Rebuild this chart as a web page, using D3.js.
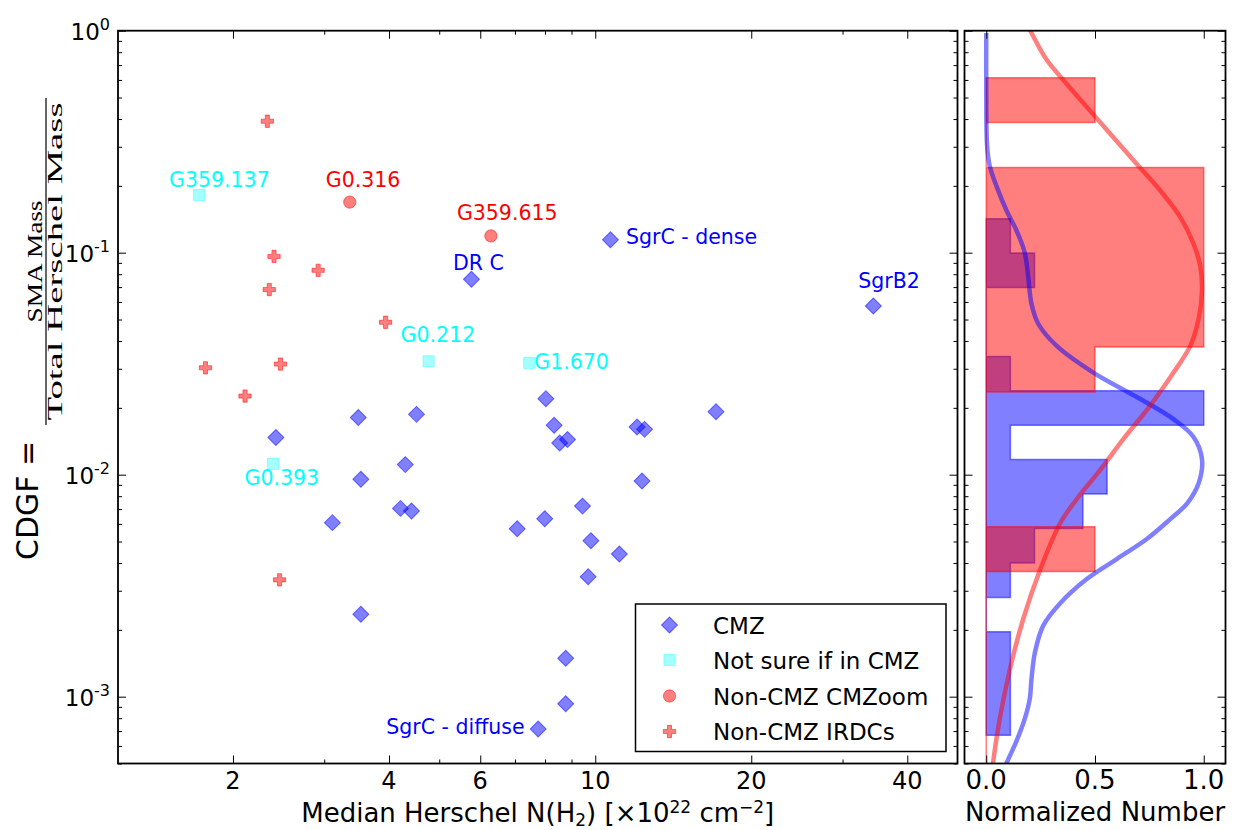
<!DOCTYPE html>
<html>
<head>
<meta charset="utf-8">
<script src="https://cdn.jsdelivr.net/npm/d3@7"></script>
<style>
  body { margin: 0; background: #fff; }
  text { font-family: "DejaVu Sans", sans-serif; }
  text.serif { font-family: "Liberation Serif", "DejaVu Serif", serif; }
</style>
</head>
<body>
<svg id="chart" width="1233" height="830"></svg>
<script>
'use strict';

// ---- data ----
// CMZ clouds: median Herschel N(H2) [1e22 cm^-2] and CDGF
const cmzNH2  = [10.70, 5.77, 34.4, 8.03, 8.33, 8.54, 8.84, 12.04, 12.45, 12.31, 17.1, 2.42, 3.49, 4.52, 3.53,
                 4.30, 4.21, 4.42, 3.11, 7.07, 7.99, 9.45, 9.81, 11.13, 9.69, 3.53, 8.77, 8.77, 7.76];
const cmzCDGF = [0.1144, 0.0759, 0.0575, 0.0220, 0.0167, 0.0139, 0.0144, 0.0164, 0.0160, 0.00936, 0.0192, 0.0147, 0.0181, 0.0187, 0.00953,
                 0.0111, 0.00705, 0.00686, 0.00608, 0.00571, 0.00633, 0.00722, 0.00504, 0.00439, 0.00347, 0.00235, 0.00149, 0.00093, 0.000715];
const cmzNames = ["SgrC - dense", "DR C", "SgrB2", "", "", "", "", "", "", "", "", "", "", "", "",
                  "", "", "", "", "", "", "", "", "", "", "", "", "", "SgrC - diffuse"];

// not sure if in CMZ
const unsureNH2  = [1.72, 4.77, 7.46, 2.39];
const unsureCDGF = [0.182, 0.0324, 0.0319, 0.0112];
const unsureNames = ["G359.137", "G0.212", "G1.670", "G0.393"];

// non-CMZ CMZoom clouds
const cmzoomNH2  = [3.36, 6.29];
const cmzoomCDGF = [0.169, 0.119];
const cmzoomNames = ["G0.316", "G359.615"];

// non-CMZ IRDCs
const irdcNH2  = [2.33, 2.40, 2.92, 2.35, 3.94, 1.77, 2.47, 2.11, 2.46];
const irdcCDGF = [0.391, 0.0962, 0.0833, 0.0682, 0.0486, 0.0303, 0.0315, 0.0226, 0.00336];

// side histograms (bin edges in CDGF, counts per bin)
const blueEdges  = [0.1423, 0.0996, 0.0697, 0.0488, 0.0341, 0.0239, 0.0167, 0.0117, 0.00818, 0.00572, 0.00400, 0.00280, 0.00196, 0.00137, 0.00096, 0.00067];
const blueCounts = [1, 2, 0, 0, 1, 9, 1, 5, 4, 2, 1, 0, 1, 1, 1];
const redEdges   = [0.614, 0.386, 0.242, 0.152, 0.0954, 0.0598, 0.0376, 0.0236, 0.0148, 0.00929, 0.00583, 0.00366, 0.0004];
const redCounts  = [1, 0, 2, 2, 2, 2, 1, 0, 0, 0, 1, 0];

// density curves: [log10(CDGF), normalized density]
const blueKde = [[-0.01, 0.0], [-0.25, 0.0], [-0.52, 0.004], [-0.61, 0.016], [-0.70, 0.047], [-0.81, 0.093], [-0.90, 0.139],
                 [-1.00, 0.177], [-1.11, 0.193], [-1.23, 0.208], [-1.32, 0.239], [-1.42, 0.324], [-1.54, 0.492], [-1.65, 0.692],
                 [-1.75, 0.861], [-1.83, 0.953], [-1.93, 0.992], [-2.04, 0.976], [-2.13, 0.923], [-2.20, 0.846], [-2.29, 0.738],
                 [-2.38, 0.600], [-2.47, 0.462], [-2.58, 0.339], [-2.68, 0.262], [-2.80, 0.224], [-2.92, 0.208], [-3.01, 0.200],
                 [-3.10, 0.177], [-3.20, 0.139], [-3.30, 0.093], [-3.40, 0.05]];
const redKde  = [[0.10, 0.15], [-0.01, 0.208], [-0.13, 0.277], [-0.24, 0.370], [-0.36, 0.477], [-0.48, 0.584], [-0.60, 0.692],
                 [-0.72, 0.800], [-0.84, 0.892], [-0.96, 0.953], [-1.06, 0.984], [-1.17, 0.992], [-1.30, 0.976], [-1.42, 0.938],
                 [-1.54, 0.861], [-1.69, 0.753], [-1.84, 0.630], [-1.98, 0.523], [-2.11, 0.416], [-2.22, 0.339], [-2.43, 0.247],
                 [-2.65, 0.170], [-2.88, 0.108], [-3.10, 0.062], [-3.30, 0.031], [-3.40, 0.02]];

// ticks
const xMajor = [2, 4, 6, 10, 20, 40];
const xMinor = [3, 5, 7, 8, 9, 30];
const yDecades = [-3, -2, -1, 0];
const sideTicks = [0, 0.5, 1.0];

// ---- layout ----
const main = {left: 118, right: 957.5, top: 30.7, bottom: 763.5};
const side = {left: 964.5, right: 1225.5};

const svg = d3.select("#chart");

const x  = d3.scaleLog().domain([1.2, 50]).range([main.left, main.right]);
const y  = d3.scaleLog().domain([5e-4, 1]).range([main.bottom, main.top]);
const xs = d3.scaleLinear().domain([-0.1, 1.1]).range([side.left, side.right]);

const yMinor = [];
yDecades.forEach(d => { for (let m = 2; m < 10; m++) { let v = m * Math.pow(10, d - 1); if (v >= 5e-4 && v < 1) yMinor.push(v); } });

const BLUE = "#0000ff", RED = "#ff0000", CYAN = "#00ffff";

// ---- side panel: histograms + density curves ----
svg.append("clipPath").attr("id", "sideclip")
  .append("rect")
    .attr("x", side.left).attr("y", main.top)
    .attr("width", side.right - side.left).attr("height", main.bottom - main.top);

let sideG = svg.append("g").attr("clip-path", "url(#sideclip)");

function stepPath(edges, counts) {
  let mx = d3.max(counts);
  let p = d3.path();
  p.moveTo(xs(0), y(edges[0]));
  counts.forEach((c, i) => {
    p.lineTo(xs(c / mx), y(edges[i]));
    p.lineTo(xs(c / mx), y(edges[i + 1]));
  });
  p.lineTo(xs(0), y(edges[edges.length - 1]));
  p.closePath();
  return p.toString();
}

sideG.append("path")
  .attr("d", stepPath(blueEdges, blueCounts))
  .attr("fill", BLUE).attr("fill-opacity", 0.5)
  .attr("stroke", BLUE).attr("stroke-opacity", 0.5).attr("stroke-width", 1.5);

sideG.append("path")
  .attr("d", stepPath(redEdges, redCounts))
  .attr("fill", RED).attr("fill-opacity", 0.5)
  .attr("stroke", RED).attr("stroke-opacity", 0.5).attr("stroke-width", 1.5);

let kdeLine = d3.line()
  .x(d => xs(d[1]))
  .y(d => y(Math.pow(10, d[0])))
  .curve(d3.curveCatmullRom);

sideG.append("path").attr("d", kdeLine(blueKde))
  .attr("fill", "none").attr("stroke", BLUE).attr("stroke-opacity", 0.5).attr("stroke-width", 4.5);
sideG.append("path").attr("d", kdeLine(redKde))
  .attr("fill", "none").attr("stroke", RED).attr("stroke-opacity", 0.5).attr("stroke-width", 4.5);

// ---- markers ----
const diamond = d3.symbol().type(d3.symbolSquare).size(128)();
const square  = d3.symbol().type(d3.symbolSquare).size(125)();
const circle  = d3.symbol().type(d3.symbolCircle).size(118)();
const plus    = d3.symbol().type(d3.symbolCross).size(84)();

function drawMarkers(xv, yv, shape, color, op, rot) {
  svg.append("g").selectAll("path")
    .data(xv.map((v, i) => [v, yv[i]]))
    .join("path")
      .attr("d", shape)
      .attr("transform", d => `translate(${x(d[0])},${y(d[1])})` + (rot ? " rotate(45)" : ""))
      .attr("fill", color).attr("fill-opacity", op)
      .attr("stroke", color).attr("stroke-opacity", op).attr("stroke-width", 1);
}

drawMarkers(cmzNH2, cmzCDGF, diamond, BLUE, 0.5, true);
drawMarkers(unsureNH2, unsureCDGF, square, CYAN, 0.35, false);
drawMarkers(cmzoomNH2, cmzoomCDGF, circle, RED, 0.5, false);
drawMarkers(irdcNH2, irdcCDGF, plus, RED, 0.5, false);

// ---- annotations ----
const labelPos = {
  "G359.137": {dx: -30, dy: -8, a: "start"},
  "G0.316": {dx: -24, dy: -15.5, a: "start"},
  "G359.615": {dx: -34, dy: -15.5, a: "start"},
  "DR C": {dx: -18.5, dy: -9.5, a: "start"},
  "G0.212": {dx: -28, dy: -19.5, a: "start"},
  "G1.670": {dx: 5, dy: 6.5, a: "start"},
  "G0.393": {dx: -28.5, dy: 21, a: "start"},
  "SgrC - dense": {dx: 15.5, dy: 4.5, a: "start"},
  "SgrB2": {dx: -15, dy: -18.5, a: "start"},
  "SgrC - diffuse": {dx: -13.5, dy: 4.5, a: "end"}
};

function drawLabels(xv, yv, names, color) {
  names.forEach((n, i) => {
    if (!n) return;
    let p = labelPos[n];
    svg.append("text")
      .attr("x", x(xv[i]) + p.dx).attr("y", y(yv[i]) + p.dy)
      .attr("text-anchor", p.a)
      .attr("font-size", 20.5)
      .attr("fill", color)
      .text(n);
  });
}
drawLabels(cmzNH2, cmzCDGF, cmzNames, BLUE);
drawLabels(unsureNH2, unsureCDGF, unsureNames, CYAN);
drawLabels(cmzoomNH2, cmzoomCDGF, cmzoomNames, RED);

// ---- axes ----
function ticks(axis, t, vals, len) {
  t.call(axis.tickValues(vals).tickSize(len).tickFormat(""))
    .call(g => g.select(".domain").remove())
    .call(g => g.selectAll("line").attr("stroke", "#000").attr("stroke-width", 1));
}

let ax = svg.append("g").attr("class", "axes");
// main panel
ticks(d3.axisBottom(x), ax.append("g").attr("transform", `translate(0,${main.bottom})`), xMajor, -8);
ticks(d3.axisBottom(x), ax.append("g").attr("transform", `translate(0,${main.bottom})`), xMinor, -4);
ticks(d3.axisTop(x), ax.append("g").attr("transform", `translate(0,${main.top})`), xMajor, -8);
ticks(d3.axisTop(x), ax.append("g").attr("transform", `translate(0,${main.top})`), xMinor, -4);
let yMaj = yDecades.map(d => Math.pow(10, d));
[[main.left, d3.axisLeft], [main.right, d3.axisRight], [side.left, d3.axisLeft], [side.right, d3.axisRight]].forEach(([px, f]) => {
  ticks(f(y), ax.append("g").attr("transform", `translate(${px},0)`), yMaj, -8);
  ticks(f(y), ax.append("g").attr("transform", `translate(${px},0)`), yMinor, -4);
});
// side panel x
ticks(d3.axisBottom(xs), ax.append("g").attr("transform", `translate(0,${main.bottom})`), sideTicks, -8);
ticks(d3.axisTop(xs), ax.append("g").attr("transform", `translate(0,${main.top})`), sideTicks, -8);

// frames
[[main.left, main.right], [side.left, side.right]].forEach(([l, r]) => {
  svg.append("rect")
    .attr("x", l).attr("y", main.top).attr("width", r - l).attr("height", main.bottom - main.top)
    .attr("fill", "none").attr("stroke", "#000").attr("stroke-width", 1.8);
});

// tick labels
svg.append("g").selectAll("text").data(xMajor).join("text")
  .attr("x", d => x(d)).attr("y", 789)
  .attr("text-anchor", "middle").attr("font-size", 24)
  .text(d => d);

svg.append("g").selectAll("text").data(sideTicks).join("text")
  .attr("x", d => xs(d)).attr("y", 789)
  .attr("text-anchor", "middle").attr("font-size", 26)
  .text(d => d.toFixed(1));

let yl = svg.append("g").selectAll("text").data(yDecades).join("text")
  .attr("x", 110).attr("y", d => y(Math.pow(10, d)) + 9)
  .attr("text-anchor", "end").attr("font-size", 23);
yl.append("tspan").text("10");
yl.append("tspan").attr("dy", -10).attr("font-size", 16).text(d => d === 0 ? "0" : "-" + (-d));

// axis titles
let xt = svg.append("text")
  .attr("x", (main.left + main.right) / 2).attr("y", 822)
  .attr("text-anchor", "middle").attr("font-size", 26);
xt.append("tspan").text("Median Herschel N(H");
xt.append("tspan").attr("dy", 4).attr("font-size", 17).text("2");
xt.append("tspan").attr("dy", -4).text(") [×10");
xt.append("tspan").attr("dy", -9).attr("font-size", 17).text("22");
xt.append("tspan").attr("dy", 9).text(" cm");
xt.append("tspan").attr("dy", -9).attr("font-size", 17).text("−2");
xt.append("tspan").attr("dy", 9).text("]");

svg.append("text")
  .attr("x", (side.left + side.right) / 2).attr("y", 821)
  .attr("text-anchor", "middle").attr("font-size", 26)
  .text("Normalized Number");

// y title: CDGF = SMA Mass / Total Herschel Mass
let yt = svg.append("g").attr("transform", "translate(38,560) rotate(-90)");
yt.append("text").attr("x", 0).attr("y", 0).attr("font-size", 30).text("CDGF =");
let fr = yt.append("g").attr("transform", "translate(135,0)");
fr.append("line").attr("x1", 0).attr("x2", 327).attr("y1", 8).attr("y2", 8)
  .attr("stroke", "#000").attr("stroke-width", 1.2);
fr.append("text").attr("class", "serif").attr("x", 163.5).attr("y", 4).attr("text-anchor", "middle")
  .attr("font-size", 20)
  .attr("textLength", 122).attr("lengthAdjust", "spacingAndGlyphs")
  .text("SMA Mass");
fr.append("text").attr("class", "serif").attr("x", 163.5).attr("y", 24).attr("text-anchor", "middle")
  .attr("font-size", 20)
  .attr("textLength", 318).attr("lengthAdjust", "spacingAndGlyphs")
  .text("Total Herschel Mass");

// ---- legend ----
const legendNames = ["CMZ", "Not sure if in CMZ", "Non-CMZ CMZoom", "Non-CMZ IRDCs"];
const legendShapes = [[diamond, BLUE, 0.5, true], [square, CYAN, 0.35, false], [circle, RED, 0.5, false], [plus, RED, 0.5, false]];
let lg = svg.append("g");
lg.append("rect").attr("x", 635.5).attr("y", 604).attr("width", 310.5).attr("height", 147.5)
  .attr("fill", "#fff").attr("stroke", "#000").attr("stroke-width", 1.5);
const legendRows = [625, 660, 696, 731.5];
legendNames.forEach((n, i) => {
  let [shape, color, op, rot] = legendShapes[i];
  lg.append("path").attr("d", shape)
    .attr("transform", `translate(669.5,${legendRows[i]})` + (rot ? " rotate(45)" : ""))
    .attr("fill", color).attr("fill-opacity", op)
    .attr("stroke", color).attr("stroke-opacity", op).attr("stroke-width", 1);
  lg.append("text").attr("x", 713).attr("y", legendRows[i] + 8.5)
    .attr("font-size", 23).text(n);
});
</script>
</body>
</html>
